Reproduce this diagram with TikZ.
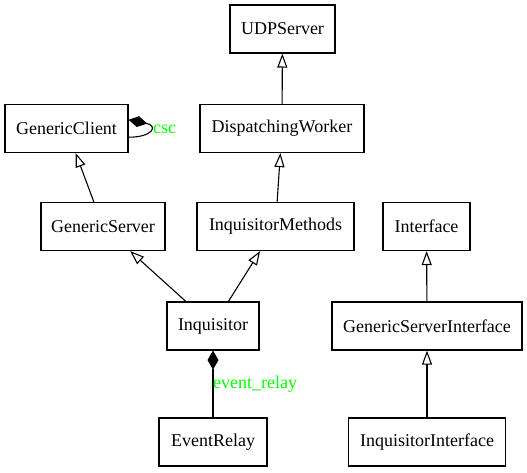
\documentclass[tikz,border=0pt]{standalone}
\usepackage{fontspec}
\setmainfont{Liberation Serif}
\usetikzlibrary{arrows.meta}
\definecolor{vertlabel}{RGB}{0,255,0}

\tikzset{
  classe/.style={draw, line width=1.2pt, minimum height=48pt, inner xsep=0pt,
    font=\fontsize{18}{20}\selectfont},
  herite/.style={-{Triangle[open,length=14pt,width=10pt]}, line width=1.1pt},
  compo/.style={{Diamond[length=19pt,width=11pt]}-, line width=1.1pt},
  etiq/.style={text=vertlabel, inner sep=0pt, font=\fontsize{18}{20}\selectfont}
}

\begin{document}
\begin{tikzpicture}[x=1pt,y=-1pt]

\useasboundingbox (0,0) rectangle (527,473);

% les classes
\node[classe, minimum width=105pt] (udp) at (282.5,29) {UDPServer};
\node[classe, minimum width=123pt] (gc) at (66.5,128.5) {GenericClient};
\node[classe, minimum width=164pt] (dw) at (282,128.5) {DispatchingWorker};
\node[classe, minimum width=124pt] (gs) at (103,226.5) {GenericServer};
\node[classe, minimum width=157pt] (im) at (275.5,226.5) {InquisitorMethods};
\node[classe, minimum width=87pt] (itf) at (426.5,226.5) {Interface};
\node[classe, minimum width=92pt] (inq) at (213,326) {Inquisitor};
\node[classe, minimum width=190pt] (gsi) at (427,326) {GenericServerInterface};
\node[classe, minimum width=108pt] (evr) at (213,442) {EventRelay};
\node[classe, minimum width=157pt] (ii) at (427,442) {InquisitorInterface};

% heritage
\draw[herite] (dw) -- (udp);
\draw[herite] (gs) -- (gc);
\draw[herite] (im) -- (dw);
\draw[herite] (inq) -- (gs);
\draw[herite] (inq) -- (im);
\draw[herite] (gsi) -- (itf);
\draw[herite] (ii) -- (gsi);

% compositions
\draw[compo] (inq) -- (evr);
\node[etiq, anchor=west] (lrelay) at (213,384) {event\_relay};

\draw[compo] (gc.8) .. controls +(30,6) and +(24,0) .. (gc.-8); %boucle sur GenericClient
\node[etiq, anchor=west] (lcsc) at (153,129) {csc};

\end{tikzpicture}
\end{document}
